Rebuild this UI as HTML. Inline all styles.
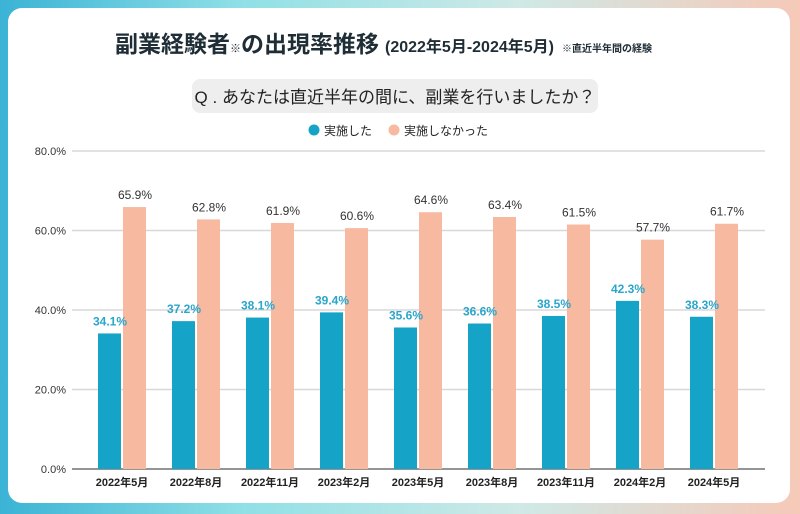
<!DOCTYPE html>
<html><head><meta charset="utf-8">
<style>
body{margin:0;width:800px;height:514px;overflow:hidden;font-family:"Liberation Sans","Noto Sans CJK JP",sans-serif;}
.bg{position:absolute;left:0;top:0;width:800px;height:514px;background:linear-gradient(90deg,#3bb3d5 0%,#8fe0e6 30%,#cfe9e6 65%,#f6c9b8 100%);}
.panel{position:absolute;left:8px;top:8px;width:782px;height:495px;background:#fff;border-radius:14px;}
svg{position:absolute;left:0;top:0;}
</style></head><body>
<div class="bg"></div>
<div class="panel"></div>
<svg width="800" height="514" id="chart">
<text x="115" y="52" font-size="23" font-weight="bold" fill="#1f2d36">副業経験者<tspan font-size="11">※</tspan>の出現率推移<tspan font-size="16" dx="6">(2022年5月-2024年5月)</tspan><tspan font-size="10" dx="8">※直近半年間の経験</tspan></text>
<rect x="192" y="79" width="406" height="34" rx="8" fill="#eeeeee"/>
<text x="395" y="103" font-size="17" text-anchor="middle" fill="#222">Q . あなたは直近半年の間に、副業を行いましたか？</text>
<g>
<circle cx="314" cy="130" r="5.5" fill="#16a3c8"/>
<text x="324" y="135" font-size="12" fill="#222">実施した</text>
<circle cx="394" cy="130" r="5.5" fill="#f7b9a0"/>
<text x="404" y="135" font-size="12" fill="#222">実施しなかった</text>
</g>
<g id="plot"></g>
</svg>
<script>
const categories=["2022年5月","2022年8月","2022年11月","2023年2月","2023年5月","2023年8月","2023年11月","2024年2月","2024年5月"];
const didValues=[34.1,37.2,38.1,39.4,35.6,36.6,38.5,42.3,38.3];
const didNotValues=[65.9,62.8,61.9,60.6,64.6,63.4,61.5,57.7,61.7];
const yTicks=[0,20,40,60,80];
const NS="http://www.w3.org/2000/svg";
const g=document.getElementById('plot');
const y0=469,y1=151,yMax=80;
function y(v){return y0-(y0-y1)*v/yMax;}
function xc(i){return 122+74*i;}
function mk(tag,attrs){const e=document.createElementNS(NS,tag);for(const k in attrs)e.setAttribute(k,attrs[k]);g.appendChild(e);return e;}
yTicks.forEach(t=>{
  const l=mk('line',{x1:72,x2:765,y1:y(t),y2:y(t),stroke:t===0?'#555':'#d8d8d8','stroke-width':t===0?1.2:1.5});
  
  
  const tx=mk('text',{x:66,y:y(t)+4,'font-size':11,'text-anchor':'end',fill:'#333'});
  tx.textContent=t.toFixed(1)+'%';
  
  
});
categories.forEach((c,i)=>{
  const cx=xc(i);
  const b1=mk('rect',{x:cx-24,y:y(didValues[i]),width:23,height:y0-y(didValues[i]),fill:'#16a3c8'});
  
  
  const b2=mk('rect',{x:cx+1,y:y(didNotValues[i]),width:23,height:y0-y(didNotValues[i]),fill:'#f7b9a0'});
  
  
  const l1=mk('text',{x:cx-12,y:y(didValues[i])-8,'font-size':12,'font-weight':'bold','text-anchor':'middle',fill:'#2aa6cc'});
  l1.textContent=didValues[i].toFixed(1)+'%';
  
  
  const l2=mk('text',{x:cx+13,y:y(didNotValues[i])-8,'font-size':12,'text-anchor':'middle',fill:'#333'});
  l2.textContent=didNotValues[i].toFixed(1)+'%';
  
  
  const cl=mk('text',{x:cx,y:486,'font-size':11,'font-weight':'bold','text-anchor':'middle',fill:'#222'});
  cl.textContent=c;
  
  
});
</script>
</body></html>
